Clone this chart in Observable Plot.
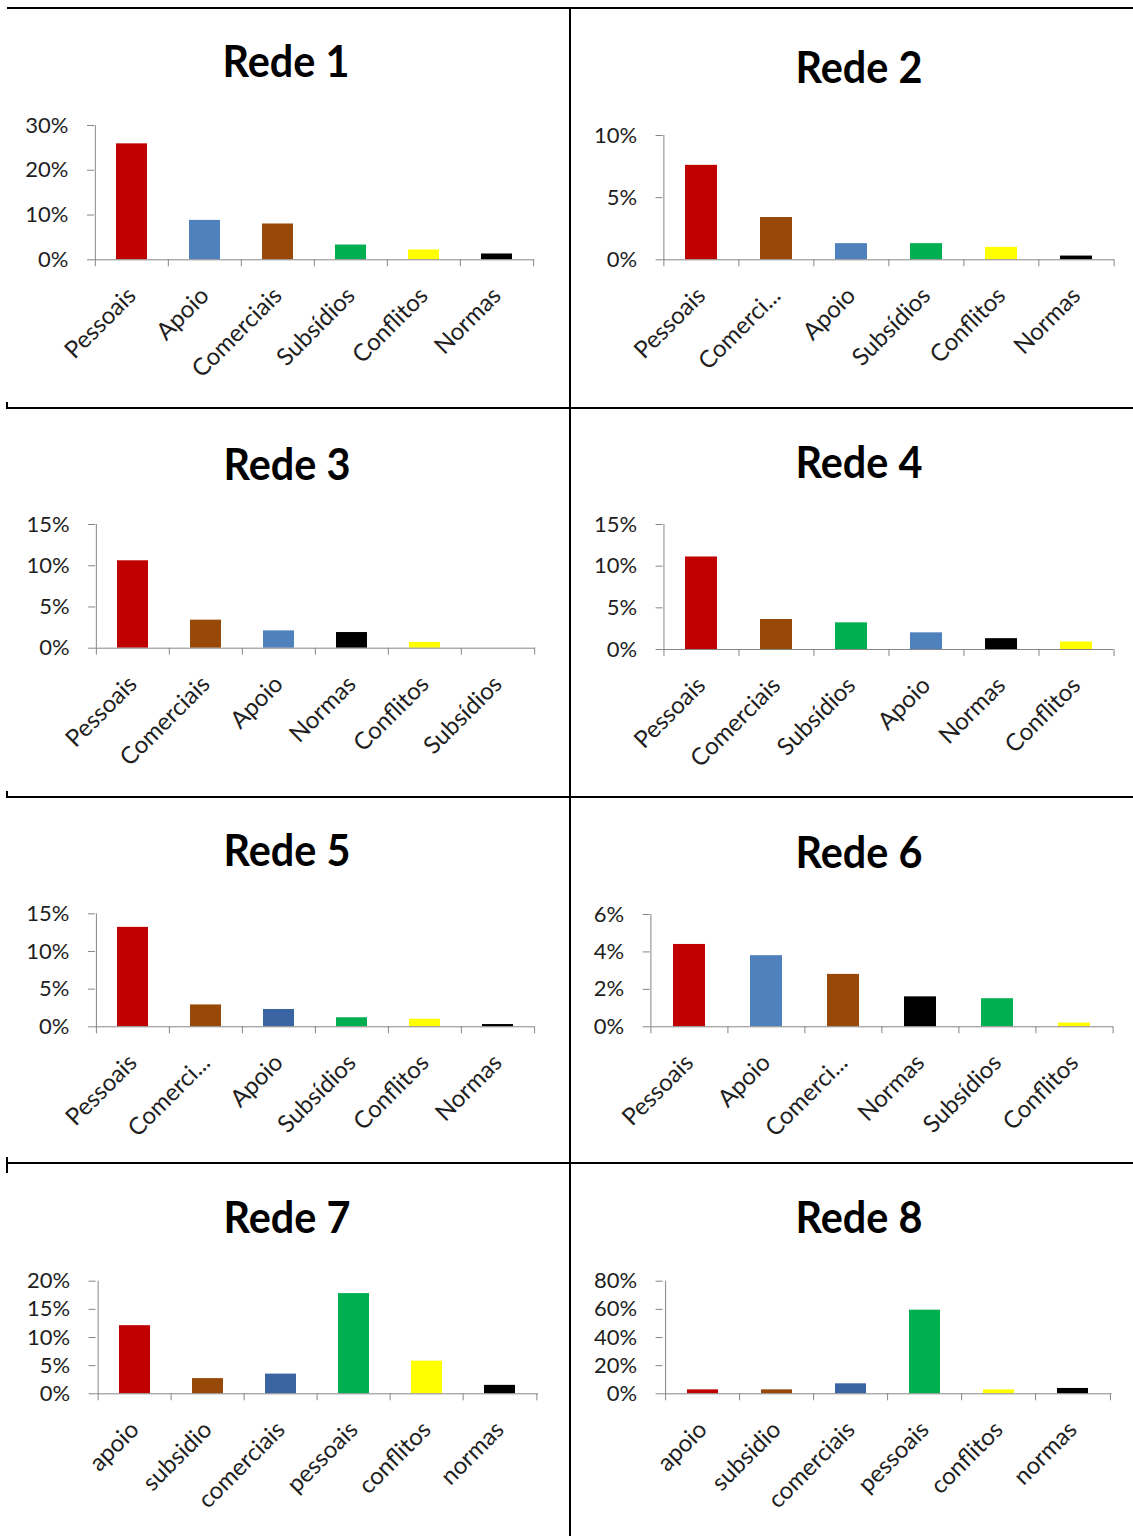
<!DOCTYPE html>
<html>
<head>
<meta charset="utf-8">
<script src="https://cdn.jsdelivr.net/npm/d3@7"></script>
<script src="https://cdn.jsdelivr.net/npm/@observablehq/plot@0.6"></script>
<style>
  body { margin: 0; background: #fff; }
  #pagina { position: relative; width: 1133px; height: 1536px; overflow: hidden; background: #fff; }
  .linha { position: absolute; background: #000; }
  .titulo { position: absolute; font-family: Lato, "Open Sans", sans-serif; font-weight: 700; font-size: 44px;
            line-height: 44px; color: #000; white-space: nowrap; transform: translateX(-50%) scaleX(0.94); transform-origin: center; }
  .grafico { position: absolute; }
</style>
</head>
<body>
<div id="pagina"></div>
<script>
// Share of ties (%) by type in each network
const rede1Tipos = ["Pessoais", "Apoio", "Comerciais", "Subsídios", "Conflitos", "Normas"];
const rede1Valores = [25.9, 8.8, 8.0, 3.3, 2.2, 1.3];
const rede1Ticks = [0, 10, 20, 30];

const rede2Tipos = ["Pessoais", "Comerci...", "Apoio", "Subsídios", "Conflitos", "Normas"];
const rede2Valores = [7.6, 3.4, 1.3, 1.3, 1.0, 0.3];
const rede2Ticks = [0, 5, 10];

const rede3Tipos = ["Pessoais", "Comerciais", "Apoio", "Normas", "Conflitos", "Subsídios"];
const rede3Valores = [10.6, 3.4, 2.1, 1.9, 0.7, 0];
const rede3Ticks = [0, 5, 10, 15];

const rede4Tipos = ["Pessoais", "Comerciais", "Subsídios", "Apoio", "Normas", "Conflitos"];
const rede4Valores = [11.1, 3.6, 3.2, 2.0, 1.3, 0.9];
const rede4Ticks = [0, 5, 10, 15];

const rede5Tipos = ["Pessoais", "Comerci...", "Apoio", "Subsídios", "Conflitos", "Normas"];
const rede5Valores = [13.2, 2.9, 2.3, 1.2, 1.0, 0.3];
const rede5Ticks = [0, 5, 10, 15];

const rede6Tipos = ["Pessoais", "Apoio", "Comerci...", "Normas", "Subsídios", "Conflitos"];
const rede6Valores = [4.4, 3.8, 2.8, 1.6, 1.5, 0.2];
const rede6Ticks = [0, 2, 4, 6];

const rede7Tipos = ["apoio", "subsidio", "comerciais", "pessoais", "conflitos", "normas"];
const rede7Valores = [12.1, 2.7, 3.5, 17.8, 5.8, 1.5];
const rede7Ticks = [0, 5, 10, 15, 20];

const rede8Tipos = ["apoio", "subsidio", "comerciais", "pessoais", "conflitos", "normas"];
const rede8Valores = [2.8, 2.8, 7.1, 59.4, 2.8, 3.8];
const rede8Ticks = [0, 20, 40, 60, 80];

// Palette
const VERMELHO = "#C00000", AZUL = "#4F81BD", AZUL_ESCURO = "#3B64A2", MARROM = "#984807",
      VERDE = "#00B050", AMARELO = "#FFFF00", PRETO = "#000000";
const CINZA_EIXO = "#868686";
const COR_TEXTO = "#1e1e1e";

// Panel layout (page pixels): axis box, title position, colours per bar
const paineis = [
  {titulo: "Rede 1", tipos: rede1Tipos, valores: rede1Valores, ticks: rede1Ticks, col: 0,
   eixoEsq: 94, eixoDir: 534, yTopo: 125, yZero: 259.3, tituloX: 286, tituloBase: 77,
   cores: [VERMELHO, AZUL, MARROM, VERDE, AMARELO, PRETO]},
  {titulo: "Rede 2", tipos: rede2Tipos, valores: rede2Valores, ticks: rede2Ticks, col: 1,
   eixoEsq: 662.6, eixoDir: 1114, yTopo: 135, yZero: 259.3, tituloX: 859, tituloBase: 83,
   cores: [VERMELHO, MARROM, AZUL, VERDE, AMARELO, PRETO]},
  {titulo: "Rede 3", tipos: rede3Tipos, valores: rede3Valores, ticks: rede3Ticks, col: 0,
   eixoEsq: 95.2, eixoDir: 535, yTopo: 524, yZero: 647.7, tituloX: 287, tituloBase: 480,
   cores: [VERMELHO, MARROM, AZUL, PRETO, AMARELO, VERDE]},
  {titulo: "Rede 4", tipos: rede4Tipos, valores: rede4Valores, ticks: rede4Ticks, col: 1,
   eixoEsq: 662.6, eixoDir: 1113, yTopo: 524, yZero: 649, tituloX: 859, tituloBase: 478,
   cores: [VERMELHO, MARROM, VERDE, AZUL, PRETO, AMARELO]},
  {titulo: "Rede 5", tipos: rede5Tipos, valores: rede5Valores, ticks: rede5Ticks, col: 0,
   eixoEsq: 95, eixoDir: 534, yTopo: 913.3, yZero: 1026.3, tituloX: 287, tituloBase: 866,
   cores: [VERMELHO, MARROM, AZUL_ESCURO, VERDE, AMARELO, PRETO]},
  {titulo: "Rede 6", tipos: rede6Tipos, valores: rede6Valores, ticks: rede6Ticks, col: 1,
   eixoEsq: 649.7, eixoDir: 1113, yTopo: 914, yZero: 1026.3, tituloX: 859, tituloBase: 868,
   cores: [VERMELHO, AZUL, MARROM, PRETO, VERDE, AMARELO]},
  {titulo: "Rede 7", tipos: rede7Tipos, valores: rede7Valores, ticks: rede7Ticks, col: 0,
   eixoEsq: 95.6, eixoDir: 538, yTopo: 1280.7, yZero: 1393.3, tituloX: 287, tituloBase: 1233,
   cores: [VERMELHO, MARROM, AZUL_ESCURO, VERDE, AMARELO, PRETO]},
  {titulo: "Rede 8", tipos: rede8Tipos, valores: rede8Valores, ticks: rede8Ticks, col: 1,
   eixoEsq: 662.6, eixoDir: 1111.5, yTopo: 1280.7, yZero: 1393.3, tituloX: 859, tituloBase: 1233,
   cores: [VERMELHO, MARROM, AZUL_ESCURO, VERDE, AMARELO, PRETO]}
];

const pagina = document.getElementById("pagina");

// Cell borders
function linha(x, y, w, h) {
  const d = document.createElement("div");
  d.className = "linha";
  Object.assign(d.style, {left: x + "px", top: y + "px", width: w + "px", height: h + "px"});
  pagina.appendChild(d);
}
linha(7, 7, 1126, 2);
linha(569, 7, 2, 1529);
linha(7, 407, 1126, 2);
linha(7, 796, 1126, 2);
linha(7, 1162, 1126, 2);
linha(6, 402, 2, 7);
linha(6, 791, 2, 7);
linha(6, 1157, 2, 16);

const colunas = [{x: 0, w: 569}, {x: 571, w: 562}];

for (const p of paineis) {
  // Title above the chart
  const t = document.createElement("div");
  t.className = "titulo";
  t.textContent = p.titulo;
  t.style.left = p.tituloX + "px";
  t.style.top = (p.tituloBase - 39) + "px";
  pagina.appendChild(t);

  const {x: left, w: width} = colunas[p.col];
  const top = Math.round(p.yTopo - 22);
  const height = Math.round(p.yZero - top + 140);
  const marginLeft = p.eixoEsq - left;
  const marginRight = left + width - p.eixoDir;
  const marginTop = p.yTopo - top;
  const marginBottom = top + height - p.yZero;
  const n = p.tipos.length;
  const passo = (p.eixoDir - p.eixoEsq) / n;
  const yMax = p.ticks[p.ticks.length - 1];
  const dados = p.tipos.map((tipo, i) => ({tipo, valor: p.valores[i]}));

  const grafico = Plot.plot({
    width, height, marginLeft, marginRight, marginTop, marginBottom,
    style: {fontFamily: "Lato, 'Open Sans', sans-serif", background: "transparent", overflow: "visible"},
    x: {domain: p.tipos, paddingInner: 0.58, paddingOuter: 0.29},
    y: {domain: [0, yMax]},
    color: {domain: p.tipos, range: p.cores},
    marks: [
      Plot.barY(dados, {x: "tipo", y: "valor", fill: "tipo"}),
      // category axis line and boundary ticks
      Plot.ruleY([0], {stroke: CINZA_EIXO}),
      Plot.ruleX(p.tipos, {x: d => d, dx: -passo / 2, y1: () => 0, y2: () => 0, insetBottom: -7, stroke: CINZA_EIXO}),
      Plot.ruleX(p.tipos.slice(-1), {x: d => d, dx: passo / 2, y1: () => 0, y2: () => 0, insetBottom: -7, stroke: CINZA_EIXO}),
      // value axis line
      Plot.ruleX(p.tipos.slice(0, 1), {x: d => d, dx: -passo / 2, y1: () => 0, y2: () => yMax, stroke: CINZA_EIXO}),
      Plot.axisY({ticks: p.ticks, tickFormat: d => d + "%", tickSize: 7, tickPadding: 19, label: null,
                  stroke: CINZA_EIXO, fill: COR_TEXTO, fontSize: 22}),
      Plot.axisX({tickSize: 0, tickPadding: 32, tickRotate: -45, lineAnchor: "middle", textAnchor: "end",
                  label: null, fill: COR_TEXTO, fontSize: 24})
    ]
  });
  grafico.classList.add("grafico");
  grafico.style.left = left + "px";
  grafico.style.top = top + "px";
  pagina.appendChild(grafico);
}
</script>
</body>
</html>
